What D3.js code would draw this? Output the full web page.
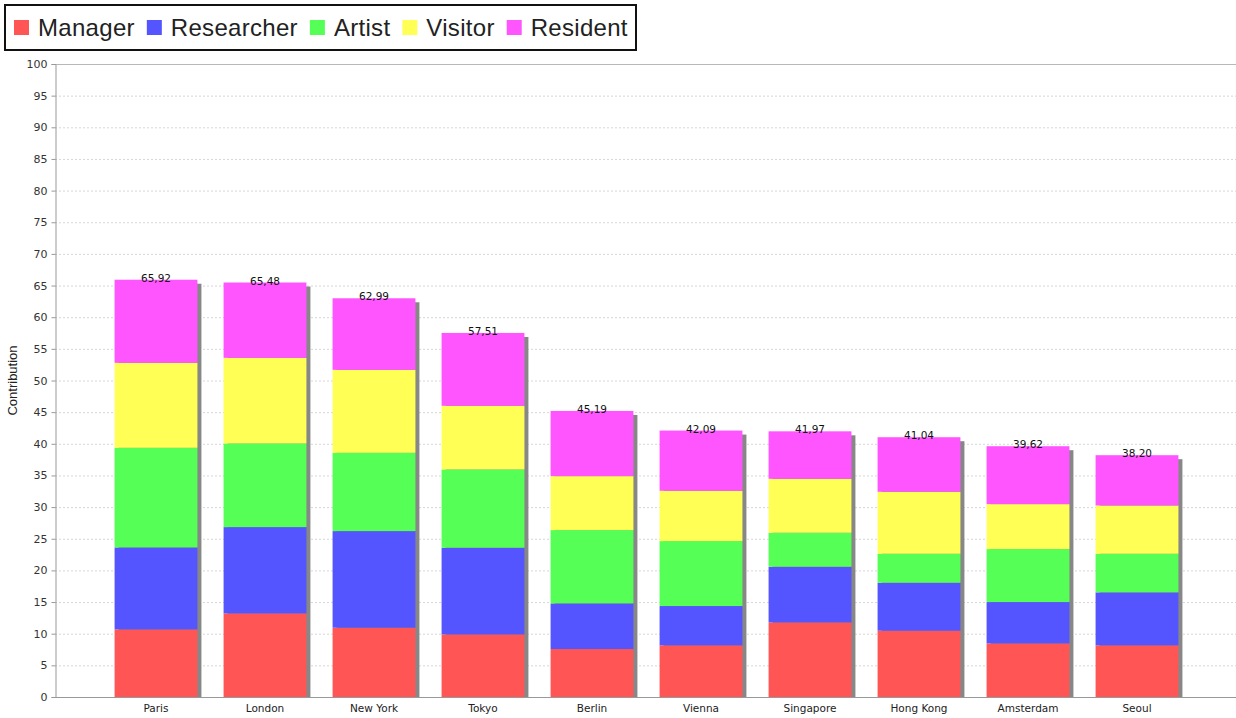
<!DOCTYPE html>
<html>
<head>
<meta charset="utf-8">
<script src="https://cdn.jsdelivr.net/npm/d3@7"></script>
<style>
  body { margin: 0; background: #fff; }
  svg { display: block; font-family: "Liberation Sans", Arial, sans-serif; }
</style>
</head>
<body>
<svg id="vis-svg" width="1236" height="718"></svg>
<script>
var width  = 1236;
var height = 718;

// data
const cities = ["Paris","London","New York","Tokyo","Berlin","Vienna","Singapore","Hong Kong","Amsterdam","Seoul"];
const seriesNames = ["Manager","Researcher","Artist","Visitor","Resident"];
const seriesColors = ["#ff5555","#5555ff","#55ff55","#ffff55","#ff55ff"];
const manager    = [10.68, 13.21, 10.95,  9.89,  7.58,  8.16, 11.79, 10.47,  8.47,  8.16];
const researcher = [12.95, 13.63, 15.26, 13.69,  7.21,  6.21,  8.79,  7.58,  6.53,  8.37];
const artist     = [15.74, 13.21, 12.37, 12.37, 11.58, 10.26,  5.37,  4.58,  8.37,  6.10];
const visitor    = [13.42, 13.53, 13.10, 10.05,  8.52,  7.95,  8.52,  9.79,  7.10,  7.63];
const resident   = [13.13, 11.90, 11.31, 11.51, 10.30,  9.51,  7.50,  8.62,  9.15,  7.94];
const totals     = [65.92, 65.48, 62.99, 57.51, 45.19, 42.09, 41.97, 41.04, 39.62, 38.20];
const yTicks = d3.range(0, 101, 5);

const svg = d3.select("#vis-svg");
const smallFont = "'DejaVu Sans', Verdana, sans-serif";

// table for the stack
const rows = cities.map((c, i) => ({
  city: c,
  Manager: manager[i], Researcher: researcher[i], Artist: artist[i],
  Visitor: visitor[i], Resident: resident[i], total: totals[i]
}));
const stacked = d3.stack().keys(seriesNames)(rows);

const x = d3.scaleBand().domain(cities).range([101.5, 1191.5]).paddingInner(0.24).paddingOuter(0.12);
const y = d3.scaleLinear().domain([0, 100]).range([697, 64]);
const color = d3.scaleOrdinal().domain(seriesNames).range(seriesColors);

const plotLeft = 55, plotRight = 1236;

// gridlines
svg.append("g").selectAll("line").data(yTicks.filter(t => t > 0 && t < 100)).enter()
  .append("line")
  .attr("x1", plotLeft).attr("x2", plotRight)
  .attr("y1", d => y(d) + 0.5).attr("y2", d => y(d) + 0.5)
  .attr("stroke", "#d6d6d6").attr("stroke-dasharray", "2,2");

// top border
svg.append("line").attr("x1", plotLeft).attr("x2", plotRight)
  .attr("y1", y(100) + 0.5).attr("y2", y(100) + 0.5).attr("stroke", "#b8b8b8");

// bar shadows
svg.append("g").selectAll("rect").data(rows).enter()
  .append("rect")
  .attr("x", d => x(d.city) + 4)
  .attr("y", d => y(d.total) + 4)
  .attr("width", x.bandwidth())
  .attr("height", d => y(0) - y(d.total) - 4)
  .attr("fill", "#878787");

// stacked bars
svg.append("g").selectAll("g").data(stacked).enter()
  .append("g").attr("fill", d => color(d.key))
  .selectAll("rect").data(d => d).enter()
  .append("rect")
  .attr("x", d => x(d.data.city))
  .attr("y", d => y(d[1]))
  .attr("width", x.bandwidth())
  .attr("height", d => y(d[0]) - y(d[1]));

// total labels
const fmt = d3.format(".2f");
svg.append("g").selectAll("text").data(rows).enter()
  .append("text")
  .attr("x", d => x(d.city) + x.bandwidth() / 2)
  .attr("y", d => y(d.total) + 2)
  .attr("text-anchor", "middle")
  .attr("font-family", smallFont)
  .attr("font-size", 10.5)
  .attr("fill", "#111")
  .text(d => fmt(d.total).replace(".", ","));

// y axis
const yAxis = svg.append("g").attr("transform", `translate(${plotLeft + 0.5},0)`)
  .call(d3.axisLeft(y).tickValues(yTicks).tickSize(4).tickPadding(4));
yAxis.select(".domain").attr("stroke", "#999");
yAxis.selectAll(".tick line").attr("stroke", "#999");
yAxis.selectAll(".tick text").attr("font-size", 11).attr("fill", "#333")
  .attr("font-family", smallFont);

// x axis
const xAxis = svg.append("g").attr("transform", `translate(0,${y(0) + 0.5})`)
  .call(d3.axisBottom(x).tickSize(0).tickPadding(7));
xAxis.select(".domain").attr("d", `M${plotLeft},0H${plotRight}`).attr("stroke", "#999");
xAxis.selectAll(".tick text").attr("font-size", 10.5).attr("fill", "#222")
  .attr("font-family", smallFont);

// y axis title
svg.append("text")
  .attr("transform", `translate(17,${(y(0) + y(100)) / 2}) rotate(-90)`)
  .attr("text-anchor", "middle")
  .attr("font-size", 13)
  .attr("fill", "#222")
  .text("Contribution");

// legend
const legend = svg.append("g");
legend.append("rect").attr("x", 5).attr("y", 5).attr("width", 631).attr("height", 45)
  .attr("fill", "#fff").attr("stroke", "#111").attr("stroke-width", 2);
let lx = 14;
seriesNames.forEach((name, i) => {
  legend.append("rect").attr("x", lx).attr("y", 20).attr("width", 15).attr("height", 15)
    .attr("fill", seriesColors[i]);
  const t = legend.append("text").attr("x", lx + 24).attr("y", 36)
    .attr("font-size", 24).attr("letter-spacing", 0.3).attr("fill", "#222").text(name);
  lx = lx + 24 + t.node().getComputedTextLength() + 12;
});
</script>
</body>
</html>
